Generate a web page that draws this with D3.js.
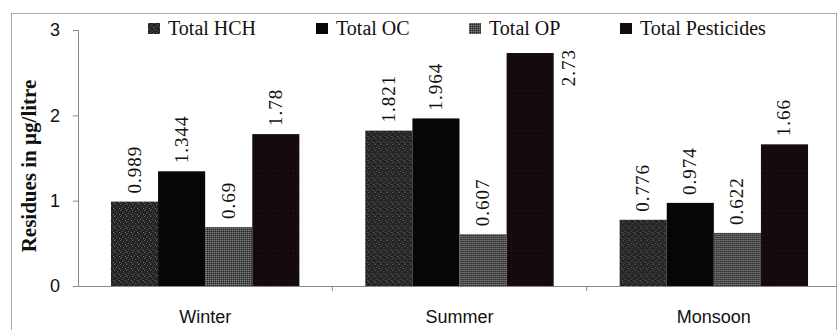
<!DOCTYPE html>
<html>
<head>
<meta charset="utf-8">
<script src="https://cdn.jsdelivr.net/npm/d3@7"></script>
<style>
  body { margin: 0; background: #fff; }
  svg { display: block; }
</style>
</head>
<body>
<div id="chart"></div>
<script>
// seasons on the x axis
const seasons = ['Winter', 'Summer', 'Monsoon'];
// residue groups, one bar each per season
const groups = ['Total HCH', 'Total OC', 'Total OP', 'Total Pesticides'];
// values in µg/litre, same order as seasons
const hch = [0.989, 1.821, 0.776];
const oc = [1.344, 1.964, 0.974];
const op = [0.69, 0.607, 0.622];
const pesticides = [1.78, 2.73, 1.66];
const yTicks = [0, 1, 2, 3];

const width = 837;
const height = 330;
const plot = { left: 78, right: 841, top: 30, bottom: 286 };

const svg = d3.select('#chart')
  .append('svg')
  .attr('width', width)
  .attr('height', height);

// textured fills, looks like the scanned original
const defs = svg.append('defs');

function speckle(id, base, dots, size) {
  const p = defs.append('pattern')
    .attr('id', id)
    .attr('patternUnits', 'userSpaceOnUse')
    .attr('width', size)
    .attr('height', size);
  p.append('rect').attr('width', size).attr('height', size).attr('fill', base);
  dots.forEach(([x, y, c]) => {
    p.append('rect').attr('x', x).attr('y', y).attr('width', 1).attr('height', 1).attr('fill', c);
  });
}

speckle('fill-hch', '#262324',
  [[0, 0, '#6a6a6a'], [3, 1, '#505050'], [5, 4, '#777'], [1, 5, '#4a4a4a'], [4, 2, '#3a3a3a'], [2, 3, '#5c5c5c']], 6);
speckle('fill-op', '#4c4c4c',
  [[0, 0, '#8a8a8a'], [2, 0, '#777'], [1, 1, '#2a2a2a'], [3, 1, '#333'], [0, 2, '#7a7a7a'], [2, 2, '#888'], [1, 3, '#303030'], [3, 3, '#2c2c2c']], 4);
speckle('fill-oc', '#060606', [[1, 2, '#140a0a']], 4);
speckle('fill-pest', '#150b0c', [[0, 0, '#241214'], [2, 3, '#0a0506']], 5);

const fills = ['url(#fill-hch)', 'url(#fill-oc)', 'url(#fill-op)', 'url(#fill-pest)'];
const series = [hch, oc, op, pesticides];

// outer frame
svg.append('rect')
  .attr('x', 11.5)
  .attr('y', 13.5)
  .attr('width', 825)
  .attr('height', 330)
  .attr('fill', 'none')
  .attr('stroke', '#aaa')
  .attr('stroke-width', 1);

const x0 = d3.scaleBand()
  .domain(seasons)
  .range([plot.left, plot.right])
  .paddingInner(0)
  .paddingOuter(0);

const x1 = d3.scaleBand()
  .domain(groups)
  .range([0, x0.bandwidth()])
  .paddingInner(0)
  .paddingOuter(0.7);

const y = d3.scaleLinear()
  .domain([0, 3])
  .range([plot.bottom, plot.top]);

// y axis
const yAxis = svg.append('g')
  .attr('transform', `translate(${plot.left},0)`)
  .call(d3.axisLeft(y).tickValues(yTicks).tickSize(5).tickPadding(13).tickFormat(d3.format('d')));
yAxis.select('.domain').attr('stroke', '#888');
yAxis.selectAll('.tick line').attr('stroke', '#888');
yAxis.selectAll('.tick text')
  .attr('font-family', '"Liberation Sans", Arial, sans-serif')
  .attr('font-size', 18)
  .attr('fill', '#111');

// x axis, ticks on category boundaries
const xAxis = svg.append('g')
  .attr('transform', `translate(0,${plot.bottom})`)
  .call(d3.axisBottom(x0).tickSize(0).tickPadding(24));
xAxis.select('.domain').attr('stroke', '#888');
xAxis.selectAll('.tick text')
  .attr('font-family', '"Liberation Sans", Arial, sans-serif')
  .attr('font-size', 18)
  .attr('fill', '#111');
svg.append('g')
  .selectAll('line')
  .data(seasons.slice(1))
  .join('line')
  .attr('x1', d => x0(d))
  .attr('x2', d => x0(d))
  .attr('y1', plot.bottom)
  .attr('y2', plot.bottom + 5)
  .attr('stroke', '#888');

// y axis title
svg.append('text')
  .attr('transform', `translate(36,${(plot.top + plot.bottom) / 2 + 8}) rotate(-90)`)
  .attr('text-anchor', 'middle')
  .attr('font-family', '"Liberation Serif", "Times New Roman", serif')
  .attr('font-weight', 'bold')
  .attr('font-size', 21)
  .attr('fill', '#111')
  .text('Residues in µg/litre');

// bars
const seasonGroups = svg.append('g')
  .selectAll('g')
  .data(seasons)
  .join('g')
  .attr('transform', d => `translate(${x0(d)},0)`);

seasonGroups.selectAll('rect')
  .data((s, i) => groups.map((g, j) => ({ group: g, value: series[j][i], j })))
  .join('rect')
  .attr('x', d => x1(d.group))
  .attr('y', d => y(d.value))
  .attr('width', x1.bandwidth())
  .attr('height', d => plot.bottom - y(d.value))
  .attr('fill', d => fills[d.j]);

// value labels, vertical; the tallest one sits beside its bar
seasonGroups.selectAll('text')
  .data((s, i) => groups.map((g, j) => ({ group: g, value: series[j][i], j })))
  .join('text')
  .attr('transform', d => {
    if (y(d.value) < plot.top + 40) {
      return `translate(${x1(d.group) + x1.bandwidth() + 21},${y(d.value) - 4}) rotate(-90)`;
    }
    return `translate(${x1(d.group) + x1.bandwidth() / 2 + 6},${y(d.value) - 8}) rotate(-90)`;
  })
  .attr('text-anchor', d => (y(d.value) < plot.top + 40 ? 'end' : 'start'))
  .attr('font-family', '"Liberation Serif", "Times New Roman", serif')
  .attr('font-size', 19)
  .attr('letter-spacing', 1)
  .attr('fill', '#111')
  .text(d => d.value);

// legend
const legendX = [148, 316, 469, 620];
const legend = svg.append('g')
  .selectAll('g')
  .data(groups)
  .join('g')
  .attr('transform', (d, i) => `translate(${legendX[i]},23)`);
legend.append('rect')
  .attr('width', 12)
  .attr('height', 11)
  .attr('fill', (d, i) => fills[i]);
legend.append('text')
  .attr('x', 20)
  .attr('y', 12)
  .attr('font-family', '"Liberation Serif", "Times New Roman", serif')
  .attr('font-size', 20)
  .attr('fill', '#111')
  .text(d => d);
</script>
</body>
</html>
